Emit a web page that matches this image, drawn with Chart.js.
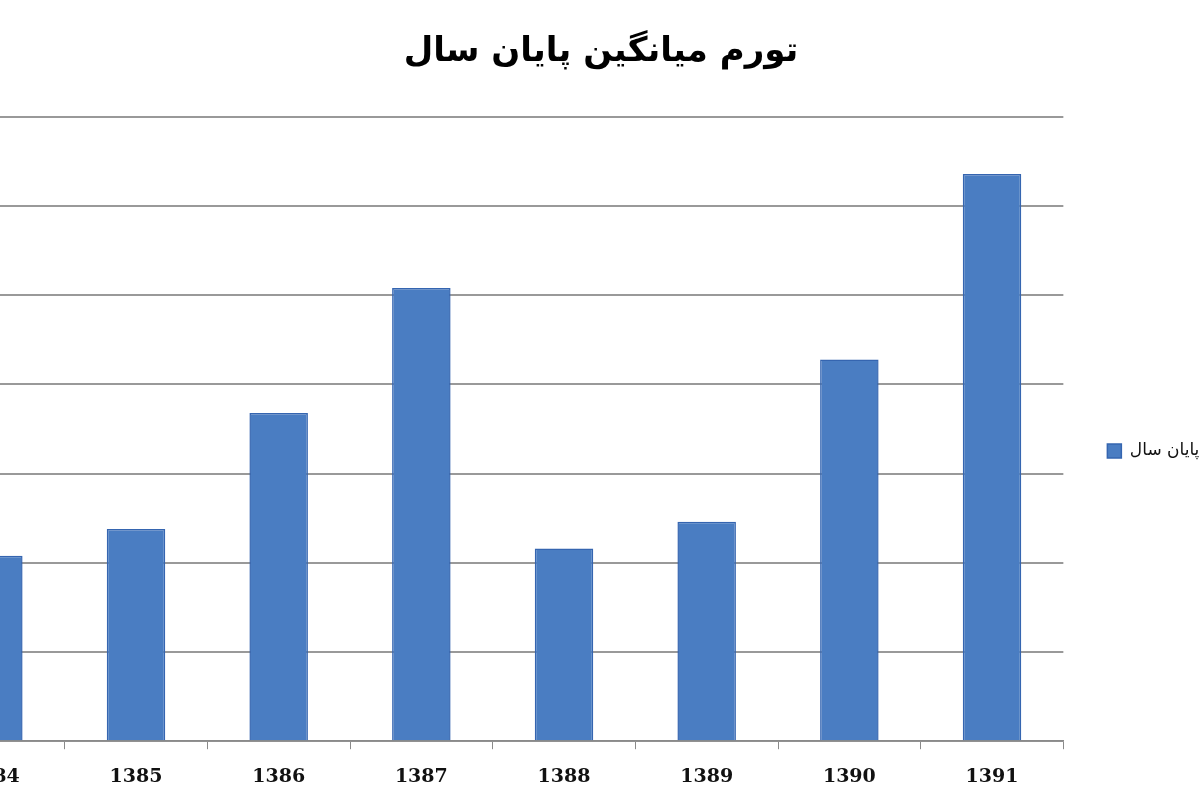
<!DOCTYPE html>
<html>
<head>
<meta charset="utf-8">
<title>تورم میانگین پایان سال</title>
<script src="https://cdn.jsdelivr.net/npm/chart.js@4"></script>
<style>
  html, body { margin: 0; padding: 0; background: #fff; }
  #frame { position: relative; width: 1200px; height: 800px; overflow: hidden; }
  #box { position: absolute; left: -150px; top: 0; width: 1500px; height: 808px; }
</style>
</head>
<body>
<div id="frame"><div id="box"><canvas id="chart"></canvas></div></div>
<script>
// inflation data
const years = ['1384', '1385', '1386', '1387', '1388', '1389', '1390', '1391'];
const inflation = [10.4, 11.9, 18.4, 25.4, 10.8, 12.3, 21.4, 31.8];
const seriesName = 'تورم میانگین پایان سال';
const chartTitle = 'تورم میانگین پایان سال';

const ctx = document.getElementById('chart').getContext('2d');
const myChart = new Chart(ctx, {
    type: 'bar',
    data: {
        labels: years,
        datasets: [{
            label: seriesName,
            data: inflation,
            backgroundColor: '#4a7dc2',
            borderColor: '#3565b0',
            borderWidth: 1.5,
            barPercentage: 0.41,
            categoryPercentage: 1.0
        }]
    },
    options: {
        responsive: true,
        maintainAspectRatio: false,
        animation: false,
        layout: {
            padding: { left: 48, right: 46, top: 0, bottom: 4 }
        },
        plugins: {
            title: {
                display: true,
                text: chartTitle,
                color: '#000',
                font: { family: 'DejaVu Sans', size: 34, weight: 'bold' },
                padding: { top: 32, bottom: 44 }
            },
            legend: {
                position: 'right',
                // empty legend title only pushes the entry down
                title: {
                    display: true,
                    text: ' ',
                    font: { size: 10 },
                    padding: 43
                },
                labels: {
                    boxWidth: 14,
                    boxHeight: 14,
                    color: '#111',
                    font: { family: 'DejaVu Sans', size: 17 },
                    padding: 44
                }
            },
            tooltip: { enabled: false }
        },
        scales: {
            x: {
                grid: {
                    display: true,
                    drawOnChartArea: false,
                    drawTicks: true,
                    tickLength: 8,
                    color: '#8a8a8a',
                    offset: true
                },
                border: { color: '#8a8a8a', width: 1.5 },
                ticks: {
                    color: '#111',
                    padding: 16,
                    font: { family: 'DejaVu Serif', size: 19, weight: 'bold' }
                }
            },
            y: {
                min: 0,
                max: 35,
                ticks: {
                    stepSize: 5,
                    color: '#111',
                    font: { family: 'DejaVu Serif', size: 15, weight: 'bold' }
                },
                grid: { color: '#999', lineWidth: 2, drawTicks: false },
                border: { display: false },
                afterFit: function(scale) { scale.width = 24; }
            }
        }
    }
});
</script>
</body>
</html>
